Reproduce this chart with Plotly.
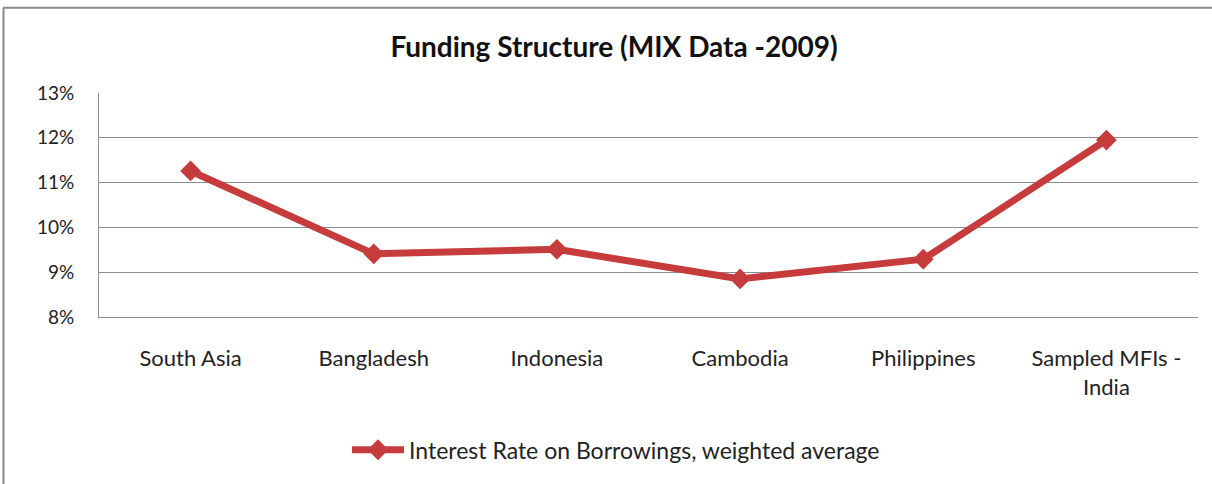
import plotly.graph_objects as go

# Interest rate on borrowings by region, MIX 2009
categories = ["South Asia", "Bangladesh", "Indonesia", "Cambodia", "Philippines",
              "Sampled MFIs -<br>India"]
interest_rate = [11.26, 9.41, 9.51, 8.85, 9.29, 11.95]
y_ticks = [8, 9, 10, 11, 12, 13]
y_tick_labels = ["8%", "9%", "10%", "11%", "12%", "13%"]

W, H = 1212, 484
L, R, T, B = 99, 14, 93, 165
pw, ph = W - L - R, H - T - B

line_color = "#C63B3B"
axis_gray = "#8c8c8c"
font_family = "Lato, 'Open Sans', sans-serif"

fig = go.Figure()
fig.add_trace(go.Scatter(
    x=categories, y=interest_rate,
    mode="lines+markers",
    name="Interest Rate on Borrowings, weighted average",
    line=dict(color=line_color, width=7),
    marker=dict(symbol="diamond", size=16, color=line_color),
))

# outer chart frame (top and left edges)
def px_to_paper_x(px):
    return (px - L) / pw

def px_to_paper_y(py):
    return (H - B - py) / ph

frame = dict(color="#8a8a8a", width=2)
fig.add_shape(type="line", xref="paper", yref="paper",
              x0=px_to_paper_x(3), x1=px_to_paper_x(W + 5),
              y0=px_to_paper_y(7), y1=px_to_paper_y(7), line=frame)
fig.add_shape(type="line", xref="paper", yref="paper",
              x0=px_to_paper_x(3.5), x1=px_to_paper_x(3.5),
              y0=px_to_paper_y(7), y1=px_to_paper_y(H + 5), line=frame)

fig.update_layout(
    width=W, height=H,
    margin=dict(l=L, r=R, t=T, b=B),
    paper_bgcolor="white", plot_bgcolor="white",
    font=dict(family=font_family, color="#222222", size=21),
    title=dict(text="<b>Funding Structure (MIX Data -2009)</b>",
               x=px_to_paper_x(614), xref="paper", xanchor="center",
               y=1 - 47 / H, yanchor="middle",
               font=dict(size=28, family=font_family, color="#111111")),
    showlegend=True,
    legend=dict(orientation="h", x=px_to_paper_x(616), xanchor="center", xref="paper",
                y=px_to_paper_y(453), yanchor="middle",
                font=dict(size=23, color="#222222"), itemwidth=52),
    xaxis=dict(
        type="category", showgrid=False, zeroline=False,
        showline=True, linecolor=axis_gray, linewidth=1,
        ticks="outside", ticklen=22, tickcolor="rgba(0,0,0,0)",
        tickfont=dict(size=22, color="#222222"),
        range=[-0.5, len(categories) - 0.5],
    ),
    yaxis=dict(
        range=[8, 13], tickvals=y_ticks, ticktext=y_tick_labels,
        showgrid=True, gridcolor=axis_gray, gridwidth=1,
        showline=True, linecolor=axis_gray, linewidth=1,
        zeroline=False,
        ticks="outside", ticklen=20, tickcolor="rgba(0,0,0,0)",
        tickfont=dict(size=19, color="#222222"),
    ),
)

fig.write_html("out.html")
